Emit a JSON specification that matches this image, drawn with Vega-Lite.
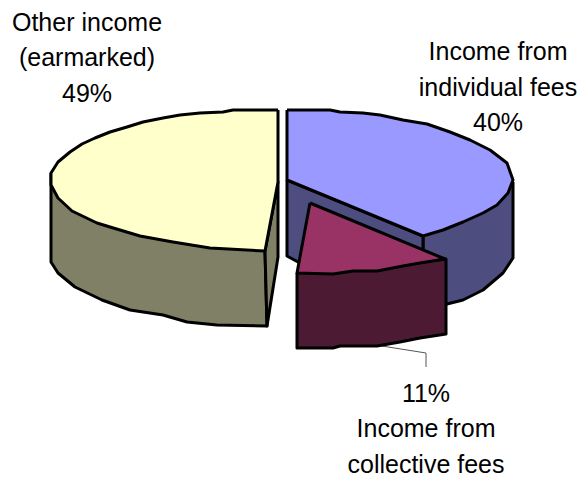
{"$schema":"https://vega.github.io/schema/vega-lite/v6.json","width":582,"height":479,"autosize":{"type":"fit","contains":"padding"},"padding":0,"background":"white","view":{"stroke":null},
"datasets":{"shapes":[
{"p":"a","i":1,"x":51,"y":173},{"p":"a","i":2,"x":51,"y":262},{"p":"a","i":3,"x":58,"y":273},{"p":"a","i":4,"x":75,"y":287},{"p":"a","i":5,"x":102,"y":300},{"p":"a","i":6,"x":130,"y":310},{"p":"a","i":7,"x":163,"y":315},{"p":"a","i":8,"x":187,"y":322},{"p":"a","i":9,"x":217,"y":325},{"p":"a","i":10,"x":267,"y":326},{"p":"a","i":11,"x":265,"y":251},{"p":"a","i":12,"x":51,"y":173},
{"p":"b","i":1,"x":265,"y":251},{"p":"b","i":2,"x":278,"y":182},{"p":"b","i":3,"x":278,"y":257},{"p":"b","i":4,"x":267,"y":326},{"p":"b","i":5,"x":265,"y":251},
{"p":"c","i":1,"x":278,"y":110},{"p":"c","i":2,"x":233,"y":110},{"p":"c","i":3,"x":223,"y":112},{"p":"c","i":4,"x":200,"y":113},{"p":"c","i":5,"x":180,"y":115},{"p":"c","i":6,"x":163,"y":118},{"p":"c","i":7,"x":143,"y":122},{"p":"c","i":8,"x":127,"y":127},{"p":"c","i":9,"x":110,"y":132},{"p":"c","i":10,"x":95,"y":138},{"p":"c","i":11,"x":82,"y":144},{"p":"c","i":12,"x":70,"y":152},{"p":"c","i":13,"x":58,"y":162},{"p":"c","i":14,"x":51,"y":173},{"p":"c","i":15,"x":51,"y":185},{"p":"c","i":16,"x":58,"y":198},{"p":"c","i":17,"x":72,"y":211},{"p":"c","i":18,"x":97,"y":223},{"p":"c","i":19,"x":110,"y":227},{"p":"c","i":20,"x":140,"y":236},{"p":"c","i":21,"x":173,"y":242},{"p":"c","i":22,"x":210,"y":248},{"p":"c","i":23,"x":265,"y":251},{"p":"c","i":24,"x":278,"y":182},{"p":"c","i":25,"x":278,"y":110},
{"p":"d","i":1,"x":513,"y":182},{"p":"d","i":2,"x":513,"y":258},{"p":"d","i":3,"x":503,"y":273},{"p":"d","i":4,"x":483,"y":290},{"p":"d","i":5,"x":463,"y":300},{"p":"d","i":6,"x":447,"y":304},{"p":"d","i":7,"x":423,"y":304},{"p":"d","i":8,"x":423,"y":236},{"p":"d","i":9,"x":513,"y":182},
{"p":"e","i":1,"x":287,"y":180},{"p":"e","i":2,"x":423,"y":236},{"p":"e","i":3,"x":423,"y":310},{"p":"e","i":4,"x":298,"y":262},{"p":"e","i":5,"x":287,"y":256},{"p":"e","i":6,"x":287,"y":180},
{"p":"f","i":1,"x":287,"y":110},{"p":"f","i":2,"x":330,"y":110},{"p":"f","i":3,"x":340,"y":112},{"p":"f","i":4,"x":363,"y":113},{"p":"f","i":5,"x":380,"y":115},{"p":"f","i":6,"x":403,"y":120},{"p":"f","i":7,"x":427,"y":124},{"p":"f","i":8,"x":450,"y":132},{"p":"f","i":9,"x":470,"y":140},{"p":"f","i":10,"x":490,"y":150},{"p":"f","i":11,"x":507,"y":163},{"p":"f","i":12,"x":513,"y":180},{"p":"f","i":13,"x":508,"y":193},{"p":"f","i":14,"x":497,"y":205},{"p":"f","i":15,"x":483,"y":213},{"p":"f","i":16,"x":463,"y":222},{"p":"f","i":17,"x":443,"y":230},{"p":"f","i":18,"x":423,"y":236},{"p":"f","i":19,"x":287,"y":180},{"p":"f","i":20,"x":287,"y":110},
{"p":"g","i":1,"x":297,"y":273},{"p":"g","i":2,"x":297,"y":348},{"p":"g","i":3,"x":333,"y":348},{"p":"g","i":4,"x":340,"y":346},{"p":"g","i":5,"x":377,"y":346},{"p":"g","i":6,"x":400,"y":342},{"p":"g","i":7,"x":420,"y":338},{"p":"g","i":8,"x":446,"y":334},{"p":"g","i":9,"x":446,"y":259},{"p":"g","i":10,"x":297,"y":273},
{"p":"h","i":1,"x":310,"y":203},{"p":"h","i":2,"x":445,"y":259},{"p":"h","i":3,"x":420,"y":263},{"p":"h","i":4,"x":403,"y":266},{"p":"h","i":5,"x":377,"y":271},{"p":"h","i":6,"x":353,"y":271},{"p":"h","i":7,"x":333,"y":274},{"p":"h","i":8,"x":297,"y":273},{"p":"h","i":9,"x":310,"y":203}
],
"leader":[{"i":1,"x":382,"y":346},{"i":2,"x":426,"y":353},{"i":3,"x":426,"y":367}],
"labels":[
{"t":"Other income","x":87,"y":31},{"t":"(earmarked)","x":87,"y":66},{"t":"49%","x":87,"y":102},
{"t":"Income from","x":498,"y":60},{"t":"individual fees","x":498,"y":96},{"t":"40%","x":498,"y":131},
{"t":"11%","x":426,"y":402},{"t":"Income from","x":426,"y":437},{"t":"collective fees","x":426,"y":473}
]},
"layer":[
{"data":{"name":"leader"},"mark":{"type":"line","stroke":"#555555","strokeWidth":1},"encoding":{"x":{"field":"x","type":"quantitative","scale":{"domain":[0,582],"range":[0,582]},"axis":null},"y":{"field":"y","type":"quantitative","scale":{"domain":[0,479],"range":[0,479]},"axis":null},"order":{"field":"i"}}},
{"data":{"name":"shapes"},"mark":{"type":"line","stroke":"#000000","strokeWidth":3,"strokeJoin":"round","clip":false},"encoding":{"x":{"field":"x","type":"quantitative","scale":{"domain":[0,582],"range":[0,582]},"axis":null},"y":{"field":"y","type":"quantitative","scale":{"domain":[0,479],"range":[0,479]},"axis":null},"order":{"field":"i"},"detail":{"field":"p"},"fill":{"field":"p","type":"nominal","legend":null,"scale":{"domain":["a","b","c","d","e","f","g","h"],"range":["#808066","#808066","#FFFFCC","#4D4D80","#4D4D80","#9999FF","#4D1A33","#993366"]}}}},
{"data":{"name":"labels"},"mark":{"type":"text","font":"Liberation Sans","fontSize":25,"color":"#000000","align":"center","baseline":"alphabetic"},"encoding":{"x":{"field":"x","type":"quantitative","scale":{"domain":[0,582],"range":[0,582]},"axis":null},"y":{"field":"y","type":"quantitative","scale":{"domain":[0,479],"range":[0,479]},"axis":null},"text":{"field":"t"}}}
]}
